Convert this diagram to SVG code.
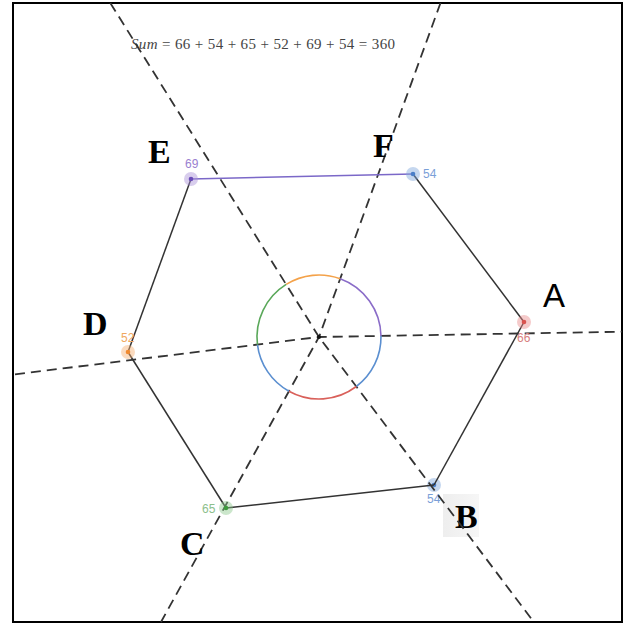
<svg xmlns="http://www.w3.org/2000/svg" width="626" height="625" viewBox="0 0 626 625">
<style>
.edge{fill:none;stroke:#333;stroke-width:1.5}
.dash{fill:none;stroke:#333;stroke-width:1.8;stroke-dasharray:10 6}
.arc{fill:none;stroke-width:1.6}
.big{font-family:"Liberation Serif",serif;font-weight:bold;font-size:34px;fill:#000}
.num{font-family:"Liberation Sans",Arial,sans-serif;font-size:12px}
.halo{opacity:0.45}
</style>
<defs>
<linearGradient id="bbox" x1="0" y1="0" x2="1" y2="0">
<stop offset="0" stop-color="#eeeeee"/>
<stop offset="1" stop-color="#f6f6f6"/>
</linearGradient>
</defs>
<rect x="0" y="0" width="626" height="625" fill="#fff"/>
<rect x="13" y="3" width="609" height="619" fill="none" stroke="#000" stroke-width="2"/>
<text x="131" y="49" font-family="Liberation Serif,serif" font-size="15" fill="#444" textLength="264" lengthAdjust="spacing"><tspan font-style="italic">Sum</tspan> = 66 + 54 + 65 + 52 + 69 + 54 = 360</text>
<g id="B">
<rect x="443" y="494" width="36" height="43" fill="url(#bbox)"/>
<text class="big" x="455" y="528" font-size="31">B</text>
<circle class="halo" cx="434" cy="485" r="7" fill="#7ea6dc"/>
<circle cx="434" cy="485" r="2.3" fill="#4a7fc8"/>
<text class="num" x="427" y="503" fill="#7aa0d8">54</text>
</g>
<g id="connectors">
<path class="dash" d="M110.3,3 L319,337 L533.8,622"/>
<path class="dash" d="M440.5,3 L319,337 L161,622"/>
<path class="dash" d="M15,374.3 L319,337 L622,331.7"/>
<path class="edge" d="M524,322 L434,485"/>
<path class="edge" d="M434,485 L226,508"/>
<path class="edge" d="M226,508 L128,352"/>
<path class="edge" d="M128,352 L191,179"/>
<path d="M191,179 L413,174" fill="none" stroke="#7b68c8" stroke-width="1.5"/>
<path class="edge" d="M413,174 L524,322"/>
</g>
<g id="angles">
<path class="arc" stroke="#f4a24a" d="M286.15,284.42 A62,62 0 0 1 340.20,278.74"/>
<path class="arc" stroke="#8a6cc8" d="M340.20,278.74 A62,62 0 0 1 380.99,335.92"/>
<path class="arc" stroke="#5b8fd0" d="M380.99,335.92 A62,62 0 0 1 356.31,386.51"/>
<path class="arc" stroke="#d9605a" d="M356.31,386.51 A62,62 0 0 1 288.94,391.23"/>
<path class="arc" stroke="#5b8fd0" d="M288.94,391.23 A62,62 0 0 1 257.46,344.56"/>
<path class="arc" stroke="#5aa85a" d="M257.46,344.56 A62,62 0 0 1 286.15,284.42"/>
<circle cx="319" cy="337" r="2" fill="#111"/>
</g>
<g id="A">
<circle class="halo" cx="524" cy="322" r="7" fill="#e88a8a"/>
<circle cx="524" cy="322" r="2.3" fill="#d9534f"/>
<text class="num" x="517" y="342" fill="#d88080">66</text>
<text x="543" y="307" font-family="Liberation Sans,Arial,sans-serif" font-size="33" fill="#000">A</text>
</g>
<g id="C">
<circle class="halo" cx="226" cy="508" r="7" fill="#8cc88c"/>
<circle cx="226" cy="508" r="2.3" fill="#3c9a3c"/>
<text class="num" x="202" y="513" fill="#8cc08c">65</text>
<text class="big" x="180" y="555">C</text>
</g>
<g id="D">
<circle class="halo" cx="128" cy="352" r="7" fill="#f6b070"/>
<circle cx="128" cy="352" r="2.3" fill="#f08a30"/>
<text class="num" x="121" y="342" fill="#f0a860">52</text>
<text class="big" x="83" y="335">D</text>
</g>
<g id="E">
<circle class="halo" cx="191" cy="179" r="7" fill="#a890d8"/>
<circle cx="191" cy="179" r="2.3" fill="#6a4cb8"/>
<text class="num" x="185" y="168" fill="#9a80d0">69</text>
<text class="big" x="148" y="163">E</text>
</g>
<g id="F">
<circle class="halo" cx="413" cy="174" r="7" fill="#7ea6dc"/>
<circle cx="413" cy="174" r="2.3" fill="#4a7fc8"/>
<text class="num" x="423" y="178" fill="#7aa0d8">54</text>
<text class="big" x="373" y="157">F</text>
</g>
</svg>
